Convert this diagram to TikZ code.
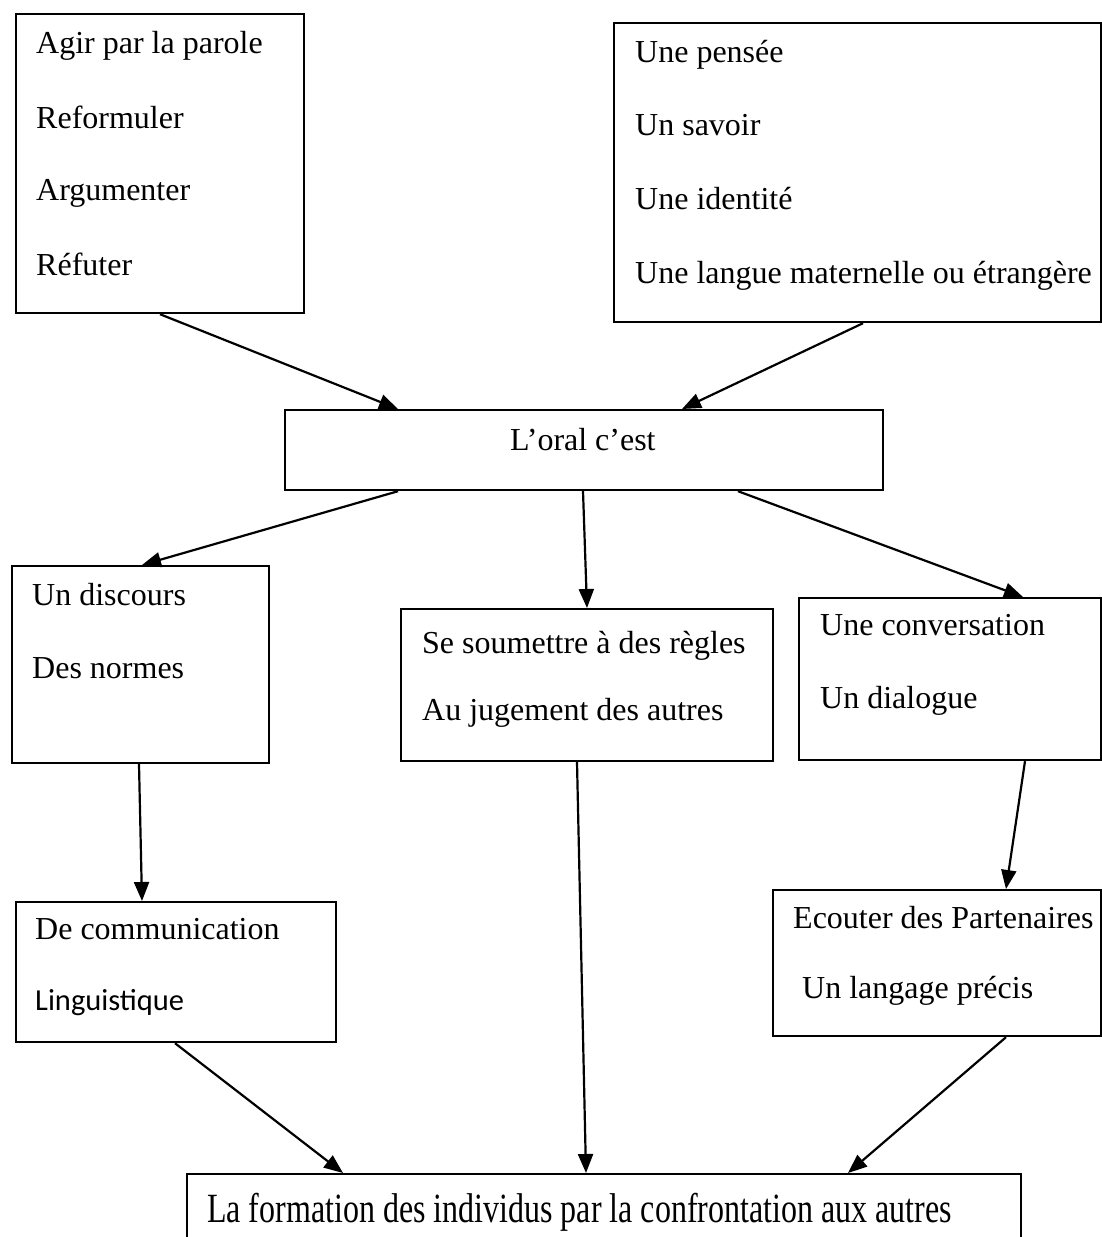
\documentclass[tikz,border=0pt]{standalone}
\usepackage{fontspec}
\setmainfont{Liberation Serif}
\newfontfamily\calibrifont{Carlito}
\usetikzlibrary{arrows.meta}
\tikzset{
  box/.style={draw, line width=2.2pt, rectangle, inner sep=0pt, anchor=north west},
  txt/.style={inner sep=0pt, anchor=base west, font=\fontsize{32}{38}\selectfont},
  arr/.style={line width=2.2pt, -{Triangle[length=19pt,width=15pt]}}
}
\begin{document}
\begin{tikzpicture}[x=1pt,y=-1pt]
\clip (0,0) rectangle (1102,1237);
\fill[white] (0,0) rectangle (1102,1237);
% boxes
\node[box, minimum width=288pt, minimum height=299pt] (b1) at (15,13) {};
\node[box, minimum width=487pt, minimum height=299pt] (b2) at (613,22) {};
\node[box, minimum width=598pt, minimum height=80pt] (oral) at (284,409) {};
\node[box, minimum width=257pt, minimum height=197pt] (b4) at (11,565) {};
\node[box, minimum width=372pt, minimum height=152pt] (b5) at (400,608) {};
\node[box, minimum width=302pt, minimum height=162pt] (b6) at (798,597) {};
\node[box, minimum width=320pt, minimum height=140pt] (b7) at (15,901) {};
\node[box, minimum width=328pt, minimum height=146pt] (b8) at (772,889) {};
\node[box, minimum width=834pt, minimum height=100pt] (b9) at (186,1173) {};
% texts
\node[txt] (t1a) at (36,53) {Agir par la parole};
\node[txt] (t1b) at (36,128) {Reformuler};
\node[txt] (t1c) at (36,200) {Argumenter};
\node[txt] (t1d) at (36,275) {Réfuter};
\node[txt] (t2a) at (635,62) {Une pensée};
\node[txt] (t2b) at (635,135) {Un savoir};
\node[txt] (t2c) at (635,209) {Une identité};
\node[txt] (t2d) at (635,283) {Une langue maternelle ou étrangère};
\node[txt] (t3) at (510,450) {L’oral c’est};
\node[txt] (t4a) at (32,605) {Un discours};
\node[txt] (t4b) at (32,678) {Des normes};
\node[txt] (t5a) at (422,653) {Se soumettre à des règles};
\node[txt] (t5b) at (422,720) {Au jugement des autres};
\node[txt] (t6a) at (820,635) {Une conversation};
\node[txt] (t6b) at (820,708) {Un dialogue};
\node[txt] (t7a) at (35,939) {De communication};
\node[txt, font=\calibrifont\fontsize{30.5}{36}\selectfont] (t7b) at (35,1010) {Linguistique};
\node[txt] (t8a) at (793,928) {Ecouter des Partenaires};
\node[txt] (t8b) at (802,998) {Un langage précis};
\node[txt] (t9) at (207,1222) {\scalebox{1}[1.3]{La formation des individus par la confrontation aux autres}};
% connectors
\draw[arr] ([xshift=145pt]b1.south west) -- ([xshift=114pt]oral.north west);
\draw[arr] ([xshift=250pt]b2.south west) -- ([xshift=398pt]oral.north west);
\draw[arr] ([xshift=114pt]oral.south west) -- ([xshift=131pt]b4.north west);
\draw[arr] ([xshift=299pt]oral.south west) -- ([xshift=187pt]b5.north west);
\draw[arr] ([xshift=454pt]oral.south west) -- ([xshift=225pt]b6.north west);
\draw[arr] ([xshift=128pt]b4.south west) -- ([xshift=127pt]b7.north west);
\draw[arr] ([xshift=227pt]b6.south west) -- ([xshift=234pt]b8.north west);
\draw[arr] ([xshift=160pt]b7.south west) -- ([xshift=157pt]b9.north west);
\draw[arr] ([xshift=177pt]b5.south west) -- ([xshift=400pt]b9.north west);
\draw[arr] ([xshift=234pt]b8.south west) -- ([xshift=662pt]b9.north west);
\end{tikzpicture}
\end{document}
